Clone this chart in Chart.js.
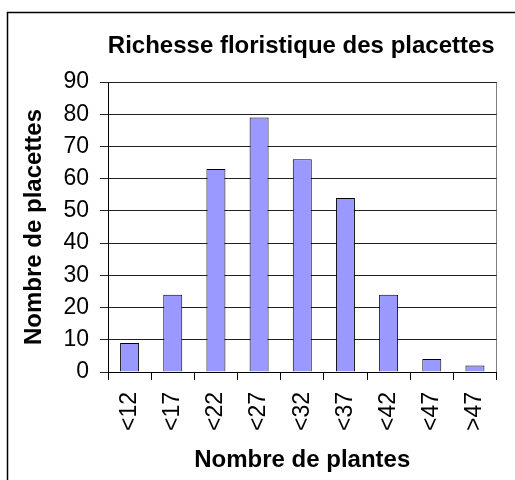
<!DOCTYPE html>
<html>
<head>
<meta charset="utf-8">
<script src="https://cdn.jsdelivr.net/npm/chart.js@4/dist/chart.umd.min.js"></script>
<style>
  html, body { margin: 0; padding: 0; background: #fff; }
  #wrap { position: relative; width: 515px; height: 480px; }
</style>
</head>
<body>
<div id="wrap"><canvas id="c" width="515" height="480"></canvas></div>
<script>
const chartTitle = "Richesse floristique des placettes";
const xTitle = "Nombre de plantes";
const yTitle = "Nombre de placettes";
const categories = ["<12", "<17", "<22", "<27", "<32", "<37", "<42", "<47", ">47"];
const placettes = [9, 24, 63, 79, 66, 54, 24, 4, 2];
const yMin = 0, yMax = 90, yStep = 10;

const FONT = "'Liberation Sans', Arial, sans-serif";

const decor = {
  id: 'decor',
  beforeDraw(chart) {
    const ctx = chart.ctx;
    ctx.save();
    // outer chart border
    ctx.strokeStyle = '#000';
    ctx.lineWidth = 1.5;
    ctx.beginPath();
    ctx.moveTo(7.5, chart.height + 5);
    ctx.lineTo(7.5, 12.5);
    ctx.lineTo(chart.width + 5, 12.5);
    ctx.stroke();
    // plot area border (right side gray)
    const a = chart.chartArea;
    ctx.strokeStyle = '#808080';
    ctx.lineWidth = 1;
    ctx.beginPath();
    ctx.moveTo(Math.round(a.right) - 0.5, a.top);
    ctx.lineTo(Math.round(a.right) - 0.5, a.bottom);
    ctx.stroke();
    ctx.restore();
  },
  afterDraw(chart) {
    const ctx = chart.ctx;
    const a = chart.chartArea;
    ctx.save();
    ctx.fillStyle = '#000';
    ctx.font = "bold 24px " + FONT;
    ctx.textAlign = 'center';
    ctx.textBaseline = 'middle';
    ctx.fillText(chartTitle, (a.left + a.right) / 2 - 1, 46);
    ctx.restore();
  }
};

new Chart(document.getElementById('c'), {
  type: 'bar',
  data: {
    labels: categories,
    datasets: [{
      data: placettes,
      backgroundColor: '#9999FF',
      borderColor: '#000',
      borderWidth: 1,
      barPercentage: 0.44,
      categoryPercentage: 1.0
    }]
  },
  options: {
    responsive: false,
    animation: false,
    devicePixelRatio: 1,
    layout: { padding: { top: 82, right: 8, bottom: 0, left: 0 } },
    plugins: { legend: { display: false }, title: { display: false }, tooltip: { enabled: false } },
    scales: {
      x: {
        grid: { display: true, drawOnChartArea: false, drawTicks: true, tickLength: 8, color: '#000', offset: true },
        border: { display: true, color: '#000', width: 1 },
        ticks: {
          autoSkip: false, minRotation: 90, maxRotation: 90, padding: 12,
          color: '#000', font: { family: FONT, size: 23 }
        },
        title: {
          display: true, text: xTitle, color: '#000',
          font: { family: FONT, size: 24, weight: 'bold' },
          padding: { top: 0, bottom: 5 }
        },
        afterFit(scale) { scale.height = 108; }
      },
      y: {
        min: yMin, max: yMax,
        grid: { display: true, drawOnChartArea: true, drawTicks: true, tickLength: 8, color: '#222' },
        border: { display: true, color: '#000', width: 1 },
        ticks: {
          stepSize: yStep, padding: 11, color: '#000',
          font: { family: FONT, size: 23 }
        },
        title: {
          display: true, text: yTitle, color: '#000',
          font: { family: FONT, size: 24, weight: 'bold' },
          padding: { top: 20, bottom: 0 }
        },
        afterFit(scale) { scale.width = 108; }
      }
    }
  },
  plugins: [decor]
});
</script>
</body>
</html>
